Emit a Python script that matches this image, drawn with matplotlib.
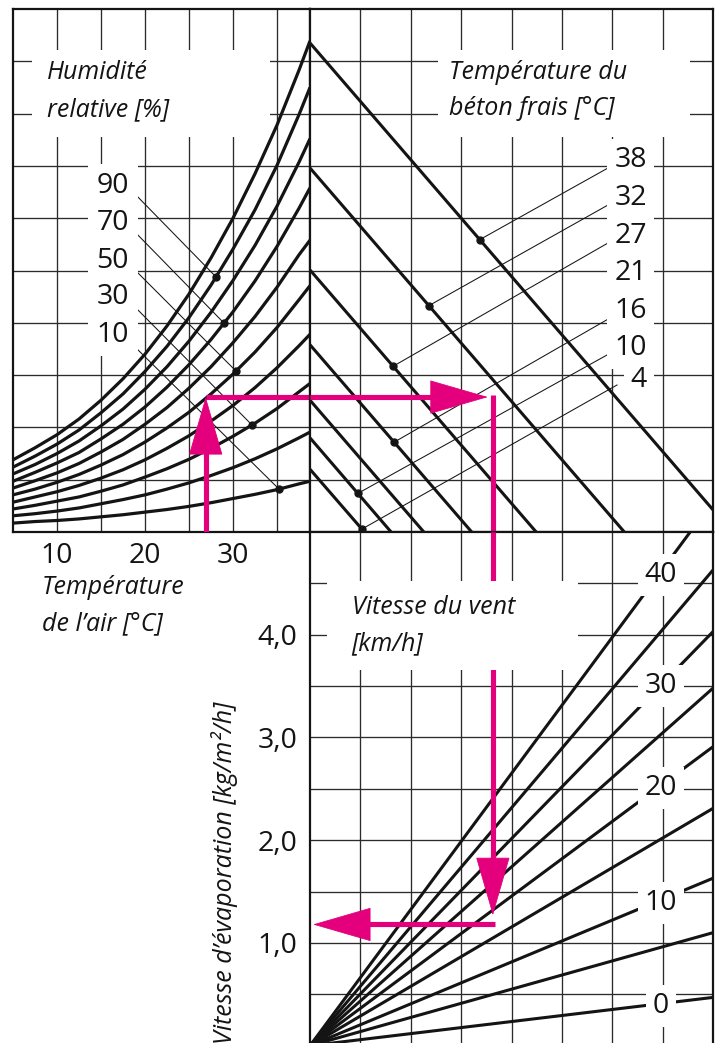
import numpy as np
import matplotlib.pyplot as plt
from matplotlib.patches import Rectangle

plt.rcParams['font.family'] = ['Open Sans', 'DejaVu Sans']

# --- data ----------------------------------------------------------------
# top left: relative humidity curves (vapour pressure in grid rows vs air temperature)
air_temp = [5, 7.5, 10, 12.5, 15, 17.5, 20, 22.5, 25, 27.5, 30, 32.5, 35, 37.5, 38.75]
rh_levels = [100, 90, 80, 70, 60, 50, 40, 30, 20, 10]
vp_100 = [1.38, 1.61, 1.86, 2.16, 2.52, 2.93, 3.40, 3.94, 4.55, 5.24, 6.00, 6.85, 7.78, 8.83, 9.39]
vp_90 = [1.24, 1.45, 1.68, 1.95, 2.28, 2.64, 3.07, 3.55, 4.10, 4.72, 5.41, 6.16, 7.01, 7.98, 8.50]
vp_80 = [1.11, 1.29, 1.50, 1.74, 2.03, 2.35, 2.73, 3.16, 3.65, 4.20, 4.81, 5.48, 6.23, 7.07, 7.52]
vp_70 = [0.97, 1.14, 1.32, 1.52, 1.78, 2.06, 2.39, 2.77, 3.20, 3.68, 4.21, 4.80, 5.46, 6.19, 6.58]
vp_60 = [0.84, 0.98, 1.13, 1.31, 1.53, 1.77, 2.06, 2.38, 2.75, 3.16, 3.62, 4.12, 4.68, 5.30, 5.58]
vp_50 = [0.71, 0.82, 0.95, 1.10, 1.28, 1.48, 1.72, 1.99, 2.29, 2.64, 3.02, 3.44, 3.91, 4.44, 4.71]
vp_40 = [0.57, 0.67, 0.77, 0.89, 1.03, 1.19, 1.38, 1.60, 1.84, 2.12, 2.42, 2.76, 3.14, 3.56, 3.78]
vp_30 = [0.44, 0.51, 0.59, 0.67, 0.78, 0.90, 1.05, 1.21, 1.39, 1.60, 1.83, 2.08, 2.36, 2.68, 2.84]
vp_20 = [0.31, 0.35, 0.40, 0.46, 0.54, 0.62, 0.71, 0.82, 0.94, 1.08, 1.23, 1.40, 1.59, 1.80, 1.91]
vp_10 = [0.17, 0.20, 0.22, 0.25, 0.29, 0.33, 0.38, 0.43, 0.49, 0.56, 0.64, 0.72, 0.81, 0.92, 0.97]
rh_curves = [vp_100, vp_90, vp_80, vp_70, vp_60, vp_50, vp_40, vp_30, vp_20, vp_10]
rh_marked = [90, 70, 50, 30, 10]
rh_dot_temp = [28.07, 28.98, 30.34, 32.16, 35.23]

# top right: fresh concrete temperature lines (start height, x where they reach 0)
conc_temp = [38, 32, 27, 21, 16, 10, 4]
conc_start = [9.35, 6.96, 5.01, 3.58, 2.52, 1.80, 1.20]
conc_end = [8.38, 6.24, 4.49, 3.21, 2.26, 1.61, 1.08]
conc_dot_line = [0, 1, 2, 3, 5, 6]
conc_dot_x = [3.37, 2.36, 1.65, 1.67, 0.95, 1.03]
conc_dot_label = [38, 32, 27, 16, 10, 4]

# bottom right: wind speed fan (evaporation rate at the right edge, x = 8)
wind_speed = [0, 5, 10, 15, 20, 25, 30, 35, 40]
evap_edge = [0.47, 1.10, 1.63, 2.31, 2.91, 3.48, 4.03, 4.63, 5.30]
wind_marked = [0, 10, 20, 30, 40]

# example reading (pink path)
ex_air = 26.9
ex_vp = 2.58
ex_dx = 3.63
ex_evap = 1.18

# --- figure -----------------------------------------------------------------
W, H = 720, 1043
INK = '#141414'
GRID = '#2b2b2b'
PINK = '#e4007c'

fig = plt.figure(figsize=(W / 100, H / 100), dpi=100)


def rect(x0, y0, x1, y1):
    return [x0 / W, 1 - y1 / H, (x1 - x0) / W, (y1 - y0) / H]


ax_tl = fig.add_axes(rect(13, 9, 310, 532))
ax_tr = fig.add_axes(rect(310, 9, 713, 532))
ax_br = fig.add_axes(rect(310, 532, 713, 1045.7))

ax_tl.set_xlim(5, 38.75)
ax_tl.set_ylim(0, 10)
ax_tr.set_xlim(0, 8)
ax_tr.set_ylim(0, 10)
ax_br.set_xlim(0, 8)
ax_br.set_ylim(0, 5)

for ax in (ax_tl, ax_tr, ax_br):
    for s in ax.spines.values():
        s.set_linewidth(1.6)
        s.set_color(INK)
    ax.set_xticks([])
    ax.set_yticks([])
    ax.tick_params(length=0, colors=INK)

# grid
for t in range(10, 40, 5):
    ax_tl.axvline(t, color=GRID, lw=0.95, zorder=1)
for ax in (ax_tl, ax_tr):
    for r in range(1, 10):
        ax.axhline(r, color=GRID, lw=0.95, zorder=1)
for ax in (ax_tr, ax_br):
    for c in range(1, 8):
        ax.axvline(c, color=GRID, lw=0.95, zorder=1)
for e in np.arange(0.5, 5.0, 0.5):
    ax_br.axhline(e, color=GRID, lw=0.95, zorder=1)

# ticks
ax_tl.set_xticks([10, 20, 30])
ax_tl.set_xticklabels(['10', '20', '30'], fontsize=20.5, color=INK)
ax_tl.tick_params(axis='x', length=0, pad=7)
ax_br.set_yticks([1, 2, 3, 4])
ax_br.set_yticklabels(['1,0', '2,0', '3,0', '4,0'], fontsize=20.5, color=INK)
ax_br.tick_params(axis='y', length=0, pad=9)

# humidity curves
for vp in rh_curves:
    ax_tl.plot(air_temp, vp, color=INK, lw=2.3, zorder=3, solid_capstyle='butt')

# concrete lines
for s, e in zip(conc_start, conc_end):
    ax_tr.plot([0, e], [s, 0], color=INK, lw=2.2, zorder=3, solid_capstyle='butt')

# wind fan
for ev in evap_edge:
    ax_br.plot([0, 8], [0, ev], color=INK, lw=2.2, zorder=3, solid_capstyle='butt')


def to_data(ax, xp, yp):
    return ax.transData.inverted().transform((xp, H - yp))


# leaders + dots, top left
rh_anchor = [(133, 192), (133, 230), (133, 268), (133, 305), (131, 343)]
for rh, t, (xp, yp) in zip(rh_marked, rh_dot_temp, rh_anchor):
    vp = rh_curves[rh_levels.index(rh)]
    y = np.interp(t, air_temp, vp)
    lx, ly = to_data(ax_tl, xp, yp)
    ax_tl.plot([lx, t], [ly, y], color=INK, lw=0.75, zorder=2.5)
    ax_tl.plot(t, y, 'o', ms=5, color=INK, zorder=4)

# leaders + dots, top right
conc_anchor = {38: (608, 168), 32: (608, 205), 27: (608, 243),
               16: (610, 318), 10: (607, 355), 4: (617, 385)}
for li, x, lab in zip(conc_dot_line, conc_dot_x, conc_dot_label):
    y = np.interp(x, [0, conc_end[li]], [conc_start[li], 0])
    lx, ly = to_data(ax_tr, *conc_anchor[lab])
    ax_tr.plot([lx, x], [ly, y], color=INK, lw=0.75, zorder=2.5)
    ax_tr.plot(x, y, 'o', ms=5, color=INK, zorder=4)

# pink example path
LWP = 3.7


def head(ax, tip, base):
    ax.annotate('', xy=tip, xytext=base,
                arrowprops=dict(arrowstyle='-|>,head_length=2.0,head_width=0.58',
                                mutation_scale=20, color=PINK, lw=0.6,
                                shrinkA=0, shrinkB=0), zorder=5)


ax_tl.plot([ex_air, ex_air], [0, ex_vp - 0.4], color=PINK, lw=LWP, zorder=5, solid_capstyle='butt')
head(ax_tl, (ex_air, ex_vp), (ex_air, 0))
ax_tl.plot([ex_air, 38.75], [ex_vp, ex_vp], color=PINK, lw=LWP, zorder=5, solid_capstyle='butt')
ax_tr.plot([0, ex_dx - 0.6], [ex_vp, ex_vp], color=PINK, lw=LWP, zorder=5, solid_capstyle='butt')
head(ax_tr, (ex_dx - 0.1, ex_vp), (0, ex_vp))
ax_tr.plot([ex_dx, ex_dx], [ex_vp + 0.045, 0], color=PINK, lw=LWP, zorder=5, solid_capstyle='butt')
ax_br.plot([ex_dx, ex_dx], [5, ex_evap + 0.4], color=PINK, lw=LWP, zorder=5, solid_capstyle='butt')
head(ax_br, (ex_dx, ex_evap + 0.09), (ex_dx, 5))
ax_br.plot([ex_dx + 0.05, 1.0], [ex_evap, ex_evap], color=PINK, lw=LWP, zorder=5, solid_capstyle='butt')
head(ax_br, (0.06, ex_evap), (ex_dx, ex_evap))

# --- overlay: white boxes and text ----------------------------------------
ov = fig.add_axes([0, 0, 1, 1], zorder=10)
ov.set_xlim(0, W)
ov.set_ylim(H, 0)
ov.axis('off')
ov.patch.set_visible(False)

for x0, y0, x1, y1 in [(32, 50, 270, 137), (438, 50, 690, 137),
                       (327, 581, 578, 670), (88, 164, 138, 352)]:
    ov.add_patch(Rectangle((x0, y0), x1 - x0, y1 - y0, fc='white', ec='none'))

ital = dict(fontsize=18, style='italic', color=INK, va='baseline')
ov.text(47, 79, 'Humidité', **ital)
ov.text(47, 116, 'relative [%]', **ital)
ov.text(449, 79, 'Température du', **ital)
ov.text(449, 115, 'béton frais [°C]', **ital)
ov.text(42, 594, 'Température', **ital)
ov.text(42, 630, 'de l’air [°C]', **ital)
ov.text(352, 614, 'Vitesse du vent', **ital)
ov.text(351, 650, '[km/h]', **ital)
ov.text(232, 702, 'Vitesse d’évaporation [kg/m²/h]', rotation=90,
        rotation_mode='anchor', fontsize=18, style='italic', color=INK,
        ha='right', va='baseline')

box = dict(boxstyle='square,pad=0.25', fc='white', ec='none')
LAB = 20.5
for rh, yb in zip(rh_marked, [193, 230, 268, 304, 342]):
    ov.text(129, yb, str(rh), fontsize=LAB, color=INK, ha='right', va='baseline', bbox=box)
for t, yb in zip(conc_temp, [167, 205, 243, 280, 318, 355, 387]):
    ov.text(647, yb, str(t), fontsize=LAB, color=INK, ha='right', va='baseline', bbox=box)
for w, yb in zip(wind_marked, [1013, 910, 795, 693, 582]):
    ov.text(661, yb, str(w), fontsize=LAB, color=INK, ha='center', va='baseline', bbox=box)

fig.savefig('out.png', dpi=100, facecolor='white')
